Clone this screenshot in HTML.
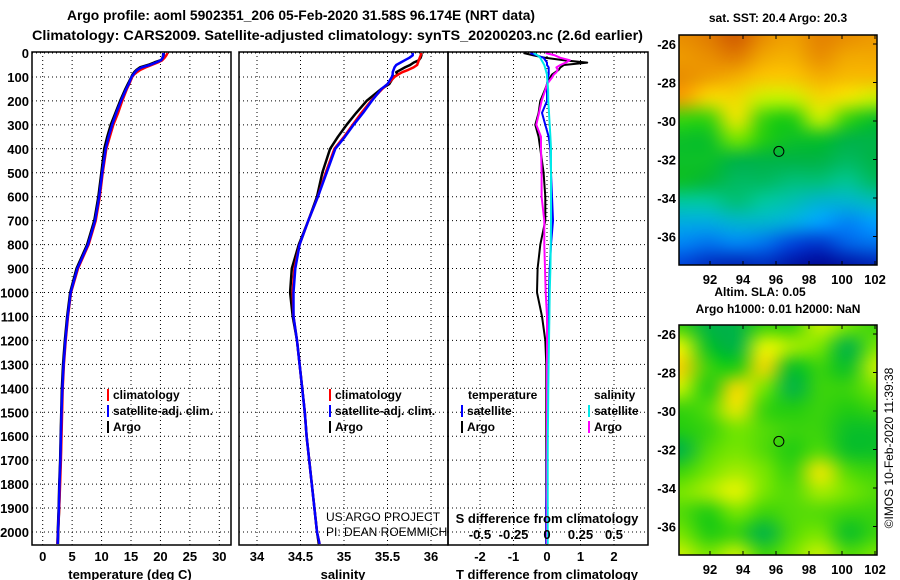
<!DOCTYPE html>
<html><head><meta charset="utf-8"><style>
html,body{margin:0;padding:0;background:#fff;width:900px;height:580px;overflow:hidden}
svg text{font-family:"Liberation Sans",Arial,sans-serif;font-weight:bold;font-size:12px;fill:#000}
</style></head><body>
<svg id="fig" xmlns="http://www.w3.org/2000/svg" width="900" height="580" viewBox="0 0 900 580">
<text x="67" y="20" textLength="468" lengthAdjust="spacingAndGlyphs" style="font-size:13.5px">Argo profile: aoml 5902351_206 05-Feb-2020 31.58S 96.174E (NRT data)</text>
<text x="32" y="40" textLength="611" lengthAdjust="spacingAndGlyphs" style="font-size:13.5px">Climatology: CARS2009. Satellite-adjusted climatology: synTS_20200203.nc (2.6d earlier)</text>
<g id="g"></g>
</svg>
<script>
const depths=[0,10,20,30,40,50,60,70,80,90,100,130,150,200,250,300,350,400,500,600,700,800,900,1000,1100,1200,1300,1400,1500,1600,1700,1800,1900,2000,2050];
const tempClim=[21.2,21,20.7,20.3,19.5,18.5,17.5,16.6,16,15.5,15.2,14.7,14.3,13.5,12.8,12,11.4,10.8,10.2,9.7,9,7.8,6,4.8,4.3,3.9,3.6,3.4,3.3,3.2,3.1,2.95,2.8,2.6,2.5];
const tempSat=[20.5,20.5,20.4,20.1,19.2,18.2,16.8,16.1,15.7,15.4,15.1,14.6,14.2,13.3,12.5,11.8,11.2,10.7,10.1,9.6,8.9,7.7,5.9,4.75,4.25,3.85,3.55,3.35,3.2,3.1,3.0,2.85,2.75,2.6,2.55];
const tempArgo=[20.5,20.5,20.4,20.2,19,18,16.6,16,15.6,15.3,15.1,14.5,14.1,13.2,12.4,11.6,11,10.5,10,9.5,8.8,7.6,5.8,4.7,4.2,3.8,3.5,3.3,3.2,3.1,3.0,2.85,2.75,2.6,2.55];
const salClim=[35.89,35.88,35.87,35.86,35.85,35.84,35.8,35.74,35.67,35.62,35.58,35.5,35.44,35.31,35.2,35.1,35.0,34.89,34.79,34.7,34.59,34.49,34.43,34.41,34.42,34.46,34.49,34.52,34.55,34.57,34.6,34.63,34.66,34.69,34.72];
const salSat=[35.79,35.79,35.75,35.7,35.65,35.6,35.58,35.57,35.56,35.56,35.55,35.5,35.43,35.32,35.22,35.11,35.01,34.9,34.8,34.7,34.59,34.49,34.44,34.42,34.42,34.46,34.49,34.52,34.55,34.57,34.6,34.63,34.66,34.69,34.72];
const salArgo=[35.89,35.89,35.88,35.86,35.8,35.76,35.7,35.65,35.6,35.62,35.57,35.52,35.43,35.26,35.14,35.03,34.93,34.84,34.75,34.69,34.59,34.48,34.4,34.38,34.41,34.46,34.49,34.52,34.55,34.57,34.6,34.63,34.66,34.69,34.71];
const tdArgo=[-0.7,-0.4,-0.05,0.5,1.2,0.5,0.4,0.35,0.25,0.15,0.1,0,-0.05,-0.2,-0.25,-0.35,-0.25,-0.2,-0.1,-0.05,-0.05,-0.2,-0.28,-0.3,-0.15,-0.05,-0.02,-0.02,-0.02,-0.02,-0.02,-0.02,-0.02,-0.02,-0.02];
const tdSat=[-0.5,-0.3,-0.1,-0.05,0,0,0.05,0.05,0.05,0.05,0.03,0,0,0,-0.15,-0.05,0.05,0.1,0.12,0.15,0.18,0.12,0.08,0.06,0.05,0.04,0.02,0.01,0,0,-0.01,-0.01,-0.02,-0.02,-0.02];
const sdArgo=[-0.01,0.06,0.1,0.17,0.14,0.1,0.07,0.08,0.07,0.05,0.04,0,-0.01,-0.04,-0.06,-0.08,-0.045,-0.045,-0.04,-0.04,-0.02,-0.02,-0.015,-0.01,0,0,0,0,0,0,0,0,0,0,0];
const sdSat=[-0.1,-0.07,-0.05,-0.04,-0.03,-0.02,-0.015,-0.01,-0.005,0,0,0.005,0.008,0.01,0.015,0.02,0.025,0.03,0.03,0.03,0.03,0.028,0.025,0.02,0.018,0.015,0.012,0.01,0.008,0.006,0.005,0.005,0.005,0.005,0.005];
const depthTicks=[0,100,200,300,400,500,600,700,800,900,1000,1100,1200,1300,1400,1500,1600,1700,1800,1900,2000];
const tempTicks=[0,5,10,15,20,25,30];
const salTicks=[34,34.5,35,35.5,36];
const tdTicks=[-2,-1,0,1,2];
const sdTicks=[-0.5,-0.25,0,0.25,0.5];
const lonTicks=[92,94,96,98,100,102];
const latTicks=[-26,-28,-30,-32,-34,-36];
const floatLon=96.174, floatLat=-31.58;
const sstGrid=[
[0.85,0.88,0.93,0.85,0.82,0.87,0.85,0.83],
[0.83,0.85,0.88,0.8,0.78,0.85,0.8,0.8],
[0.85,0.82,0.78,0.72,0.72,0.78,0.75,0.75],
[0.82,0.68,0.68,0.6,0.6,0.68,0.65,0.6],
[0.5,0.5,0.65,0.5,0.48,0.6,0.5,0.45],
[0.45,0.45,0.55,0.48,0.45,0.45,0.42,0.42],
[0.45,0.45,0.42,0.42,0.42,0.42,0.4,0.42],
[0.45,0.43,0.4,0.4,0.38,0.38,0.36,0.4],
[0.35,0.35,0.38,0.35,0.33,0.3,0.3,0.32],
[0.28,0.28,0.3,0.3,0.28,0.25,0.22,0.25],
[0.22,0.2,0.22,0.2,0.15,0.12,0.18,0.2],
[0.15,0.1,0.08,0.1,0.05,0.02,0.05,0.08]];
const slaGrid=[
[0.5,0.42,0.42,0.5,0.5,0.6,0.55,0.5],
[0.62,0.45,0.42,0.62,0.58,0.55,0.42,0.55],
[0.7,0.5,0.48,0.68,0.45,0.5,0.45,0.6],
[0.6,0.48,0.68,0.55,0.42,0.5,0.5,0.55],
[0.5,0.52,0.65,0.5,0.48,0.5,0.48,0.5],
[0.48,0.5,0.55,0.52,0.5,0.5,0.45,0.45],
[0.42,0.52,0.55,0.52,0.48,0.52,0.45,0.45],
[0.5,0.55,0.58,0.55,0.5,0.65,0.52,0.5],
[0.55,0.58,0.62,0.55,0.52,0.58,0.55,0.52],
[0.52,0.48,0.55,0.5,0.52,0.52,0.5,0.5],
[0.55,0.48,0.5,0.42,0.52,0.55,0.45,0.5],
[0.6,0.55,0.6,0.5,0.55,0.6,0.52,0.55]];

const NS="http://www.w3.org/2000/svg";
const G=document.getElementById('g');
function el(tag,attrs,parent){const e=document.createElementNS(NS,tag);for(const k in attrs)e.setAttribute(k,attrs[k]);(parent||G).appendChild(e);return e;}
function txt(x,y,s,anchor,parent,extra){const t=el('text',Object.assign({x:x,y:y,'text-anchor':anchor||'middle'},extra||{}),parent);t.textContent=s;return t;}
const yD=d=>53+d*0.2395;
const xT=v=>42.7+v*5.887;
const xS=v=>257+(v-34)*87;
const xTD=v=>547+v*33.5;
const xSD=v=>547+v*134;
const PT=52,PB=545;
function panel(name,x0,x1,xf,ticks,tickLabels,xlabel,cx){
  const g=el('g',{});
  
  
  const cp=el('clipPath',{id:'cp-'+name},g);el('rect',{x:x0,y:PT,width:x1-x0,height:PB-PT},cp);
  depthTicks.forEach(d=>{const l=el('line',{x1:x0,x2:x1,y1:yD(d),y2:yD(d),stroke:'#000','stroke-width':1,'stroke-dasharray':'1,3'},g);
    });
  ticks.forEach(v=>{const l=el('line',{x1:xf(v),x2:xf(v),y1:PT,y2:PB,stroke:'#000','stroke-width':1,'stroke-dasharray':'1,3'},g);
    });
  if(tickLabels){tickLabels.forEach((v,i)=>{const t=txt(xf(v),561,String(v),'middle',g,{style:'font-size:13px'});
    });}
  const xl=txt(cx,579,xlabel,'middle',g,{style:'font-size:13px'});
  
  const data=el('g',{'clip-path':'url(#cp-'+name+')'},g);
  const fr=el('rect',{x:x0,y:PT,width:x1-x0,height:PB-PT,fill:'none',stroke:'#000','stroke-width':1.5},g);
  
  return data;
}
function line(parent,vals,xf,color,name,w){
  const pts=vals.map((v,i)=>xf(v).toFixed(1)+','+yD(depths[i]).toFixed(1));
  const p=el('polyline',{points:pts.join(' '),fill:'none',stroke:color,'stroke-width':w||2.5,'stroke-linejoin':'round'},parent);
  
}
depthTicks.forEach(d=>{const t=txt(29,yD(d)+5,String(d),'end',G,{style:'font-size:13px'});
  });
let p1=panel('temperature-panel',32,231,xT,tempTicks,tempTicks,'temperature (deg C)',130);
line(p1,tempArgo,xT,'#000','argo-temperature-line',3);
line(p1,tempClim,xT,'#f00','climatology-temperature-line');
line(p1,tempSat,xT,'#0000ff','satellite-temperature-line');
let p2=panel('salinity-panel',239,448,xS,salTicks,salTicks,'salinity',343);
line(p2,salArgo,xS,'#000','argo-salinity-line',2.5);
line(p2,salClim,xS,'#f00','climatology-salinity-line');
line(p2,salSat,xS,'#0000ff','satellite-salinity-line');
let p3=panel('difference-panel',448,648,xTD,tdTicks,tdTicks,'T difference from climatology',547);
line(p3,tdArgo,xTD,'#000','argo-t-diff-line',2);
line(p3,tdSat,xTD,'#0000ff','satellite-t-diff-line',2);
line(p3,sdArgo,xSD,'#ff00ff','argo-s-diff-line',2);
line(p3,sdSat,xSD,'#00e8e8','satellite-s-diff-line',2);
sdTicks.forEach(v=>{const t=txt(xSD(v),539,String(v),'middle',G,{style:'font-size:13px'});
  });
{const t=txt(547,523,'S difference from climatology','middle',G,{style:'font-size:13px'});
 }
function legendEntry(x,y,color,label,name){
  const g=el('g',{});
  if(color)el('rect',{x:x,y:y-10,width:2,height:12,fill:color},g);
  txt(x+6,y,label,'start',g);
}
legendEntry(107,399,'#f00','climatology','legend-entry-climatology');
legendEntry(107,415,'#0000ff','satellite-adj. clim.','legend-entry-satellite');
legendEntry(107,431,'#000','Argo','legend-entry-argo');
legendEntry(329,399,'#f00','climatology','legend-entry-climatology');
legendEntry(329,415,'#0000ff','satellite-adj. clim.','legend-entry-satellite');
legendEntry(329,431,'#000','Argo','legend-entry-argo');
legendEntry(462,399,null,'temperature','legend-title-temperature');
legendEntry(461,415,'#0000ff','satellite','legend-entry-t-satellite');
legendEntry(461,431,'#000','Argo','legend-entry-t-argo');
legendEntry(588,399,null,'salinity','legend-title-salinity');
legendEntry(588,415,'#00e8e8','satellite','legend-entry-s-satellite');
legendEntry(588,431,'#ff00ff','Argo','legend-entry-s-argo');
{const t=txt(326,521,'US ARGO PROJECT','start',G,{style:'font-weight:normal'});
 const t2=txt(326,536,'PI: DEAN ROEMMICH','start',G,{style:'font-weight:normal'});}
const cmapStops=[[0,[0,0,140]],[0.15,[0,70,220]],[0.25,[0,160,255]],[0.35,[0,200,160]],[0.42,[0,180,70]],[0.47,[20,200,20]],[0.55,[120,230,0]],[0.62,[230,245,0]],[0.72,[250,200,0]],[0.82,[240,160,0]],[0.92,[215,100,0]],[1,[170,40,0]]];
function cmap(v){for(let i=1;i<cmapStops.length;i++){const a=cmapStops[i-1],b=cmapStops[i];if(v<=b[0]){const f=(v-a[0])/(b[0]-a[0]);return a[1].map((c,k)=>Math.round(c+(b[1][k]-c)*f));}}return cmapStops[cmapStops.length-1][1];}
const MX0=679,MX1=877;
const lonX=l=>710+(l-92)*16.5;
function map(name,grid,top,lat26y,title,titleY){
  const g=el('g',{});
  const latY=l=>lat26y+(-26-l)*19.25;
  const bot=top+230;
  const fo=el('foreignObject',{x:MX0,y:top,width:MX1-MX0,height:bot-top},g);
  const cv=document.createElement('canvas');const W=MX1-MX0,H=bot-top;cv.width=W;cv.height=H;
  cv.style.display='block';fo.appendChild(cv);
  const ctx=cv.getContext('2d');
  const rows=grid.length,cols=grid[0].length;
  const sc=document.createElement('canvas');sc.width=cols;sc.height=rows;const sx=sc.getContext('2d');
  const img=sx.createImageData(cols,rows);
  grid.forEach((r,i)=>r.forEach((v,j)=>{const c=cmap(v);const o=(i*cols+j)*4;img.data[o]=c[0];img.data[o+1]=c[1];img.data[o+2]=c[2];img.data[o+3]=255;}));
  sx.putImageData(img,0,0);
  ctx.imageSmoothingEnabled=true;ctx.imageSmoothingQuality='high';
  ctx.drawImage(sc,-W/cols/2,-H/rows/2,W*(cols+1)/cols,H*(rows+1)/rows);
  el('rect',{x:MX0,y:top,width:W,height:H,fill:'none',stroke:'#000','stroke-width':1.5},g);
  lonTicks.forEach(l=>{el('line',{x1:lonX(l),x2:lonX(l),y1:top,y2:top+4,stroke:'#000'},g);el('line',{x1:lonX(l),x2:lonX(l),y1:bot,y2:bot-4,stroke:'#000'},g);
    const t=txt(lonX(l),bot+19,String(l),'middle',g,{style:'font-size:13px'});});
  latTicks.forEach(l=>{el('line',{x1:MX1,x2:MX1-4,y1:latY(l),y2:latY(l),stroke:'#000'},g);
    const t=txt(676,latY(l)+5,String(l),'end',g,{style:'font-size:13px'});});
  const c=el('circle',{cx:lonX(floatLon),cy:latY(floatLat),r:5,fill:'none',stroke:'#000','stroke-width':1},g);
  
  const t=txt(778,titleY,title,'middle',g);
}
map('sst-map',sstGrid,35,44,'sat. SST: 20.4 Argo: 20.3',22);
map('sla-map',slaGrid,325,334,'Argo h1000: 0.01 h2000: NaN',313);
{const t=txt(760,296,'Altim. SLA: 0.05','middle');}
{const t=txt(0,0,'©IMOS 10-Feb-2020 11:39:38','middle',G,{transform:'translate(893,448) rotate(-90)',style:'font-weight:normal;font-size:12px'});
 }
</script>
</body></html>
